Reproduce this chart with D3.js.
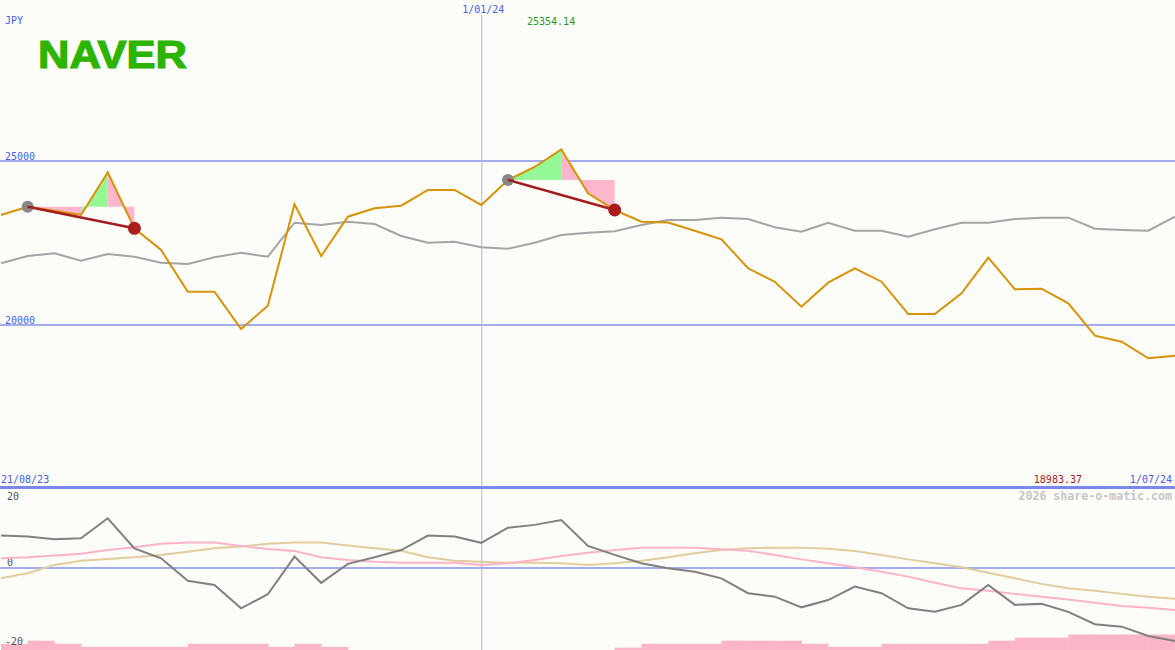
<!DOCTYPE html>
<html><head><meta charset="utf-8">
<script src="https://cdn.jsdelivr.net/npm/d3@7/dist/d3.min.js"></script>
<style>body{margin:0;background:#fcfdf9;}svg{display:block;}</style>
</head><body>
<svg id="c" width="1175" height="650"></svg>
<script>
// ---- data ----
const dates = ["2023-08-25","2023-09-01","2023-09-08","2023-09-15","2023-09-22","2023-09-29","2023-10-06","2023-10-13","2023-10-20","2023-10-27","2023-11-03","2023-11-10","2023-11-17","2023-11-24","2023-12-01","2023-12-08","2023-12-15","2023-12-22","2023-12-29","2024-01-05","2024-01-12","2024-01-19","2024-01-26","2024-02-02","2024-02-09","2024-02-16","2024-02-23","2024-03-01","2024-03-08","2024-03-15","2024-03-22","2024-03-29","2024-04-05","2024-04-12","2024-04-19","2024-04-26","2024-05-03","2024-05-10","2024-05-17","2024-05-24","2024-05-31","2024-06-07","2024-06-14","2024-06-21","2024-06-28"];
const price = [23354,23607,23485,23354,24656,22948,22287,21015,21015,19878,20588,23680,22104,23302,23558,23637,24116,24116,23659,24421,24817,25354.14,24016,23506,23150,23125,22875,22613,21729,21320,20558,21290,21729,21320,20335,20335,20967,22052,21088,21107,20662,19674,19491,18983.37,19064];
const avgLine = [21881,22104,22186,21960,22165,22082,21900,21860,22064,22204,22082,23119,23049,23150,23079,22714,22509,22540,22369,22326,22509,22744,22814,22857,23049,23201,23201,23272,23232,22979,22845,23119,22875,22875,22692,22918,23119,23119,23232,23272,23272,22936,22897,22875,23302];
const momentum = [9.4,9.1,8.3,8.6,14.4,5.7,2.8,-3.7,-4.9,-11.7,-7.6,3.3,-4.3,1.2,3.1,5.2,9.4,9.1,7.3,11.7,12.5,13.9,6.4,3.8,1.4,-0.1,-1.1,-3.0,-7.3,-8.3,-11.4,-9.3,-5.4,-7.3,-11.7,-12.7,-10.7,-4.9,-10.7,-10.4,-12.7,-16.3,-17.0,-19.7,-21.2];
const pinkSmooth = [2.8,3.1,3.6,4.1,5.2,6.0,7.0,7.4,7.4,6.4,5.5,4.9,3.1,2.3,1.8,1.5,1.5,1.5,0.9,1.4,2.3,3.5,4.4,5.2,5.9,5.9,5.9,5.4,5.0,3.8,2.5,1.4,0.2,-1.1,-2.5,-4.3,-5.9,-6.6,-7.5,-8.3,-9.1,-10.1,-11.0,-11.5,-12.2];
const tanSmooth = [-3.0,-1.5,0.9,2.1,2.6,3.1,3.8,4.7,5.7,6.2,7.0,7.4,7.4,6.5,5.7,5.0,3.1,2.1,1.8,1.5,1.5,1.4,0.9,1.4,2.1,3.1,4.3,5.2,5.7,5.9,5.9,5.6,4.9,3.8,2.5,1.4,0.2,-1.4,-3.0,-4.6,-5.9,-6.6,-7.5,-8.3,-8.9];
const bars = [2,3,2,1,1,1,1,2,2,2,1,2,1,0,0,0,0,0,0,0,0,0,0,0.75,2,2,2,3,3,3,2,1,1,2,2,2,2,3,4,4,5,5,5,5,5];
const patternStart = [1,19];
const patternEnd = [5,23];
const priceTicks = [25000,20000];
const lowerTicks = [20,0,-20];
const yearMarkDate = "2023-12-29";
const yearMarkLabel = "1/01/24";
const startLabel = "21/08/23", endLabel = "1/07/24";
const currency = "JPY", title = "NAVER";
const maxLabel = "25354.14", minLabel = "18983.37";
const watermark = "2026 share-o-matic.com";

// ---- drawing ----
const svg = d3.select("#c");
const W = 1175, H = 650;
svg.append("rect").attr("width",W).attr("height",H).attr("fill","#fcfdf9");
const n = dates.length;
const x = d3.scaleLinear().domain([0,n-1]).range([1,1175]);
const y = d3.scaleLinear().domain([20000,25000]).range([325,161]);
const yl = d3.scaleLinear().domain([-20,20]).range([637,499]);
const mono = "'DejaVu Sans Mono', monospace";

// grid
svg.selectAll(".pg").data(priceTicks).enter().append("line")
  .attr("x1",0).attr("x2",W).attr("y1",d=>y(d)).attr("y2",d=>y(d))
  .attr("stroke","#a3adee").attr("stroke-width",2);
svg.selectAll(".pt").data(priceTicks).enter().append("text")
  .attr("x",5).attr("y",d=>y(d)-1.5).text(d=>d)
  .attr("font-family",mono).attr("font-size",10).attr("fill","#4a5af0");

// year marker
const mi = dates.indexOf(yearMarkDate);
svg.append("line").attr("x1",x(mi)+0.5).attr("x2",x(mi)+0.5).attr("y1",15).attr("y2",H)
  .attr("stroke","#a8b2ec").attr("stroke-width",1);
svg.append("text").attr("x",x(mi)+2).attr("y",13).attr("text-anchor","middle").text(yearMarkLabel)
  .attr("font-family",mono).attr("font-size",10).attr("fill","#4a5af0");

// pattern fills
patternStart.forEach((s,k)=>{
  const e = patternEnd[k], L = y(price[s]);
  for(let i=s;i<e;i++){
    const pts=[[x(i),L],[x(i),y(price[i])],[x(i+1),y(price[i+1])],[x(i+1),L]];
    svg.append("path").attr("d","M"+pts.join("L")+"Z")
      .attr("fill", price[i+1]>=price[i] ? "#94f894" : "#fdb6cb").attr("stroke","none");
  }
});

const line = (arr,ys)=>d3.line().x((d,i)=>x(i)).y(d=>ys(d))(arr);
svg.append("path").attr("d",line(avgLine,y)).attr("fill","none").attr("stroke","#a4a4a4").attr("stroke-width",2);
svg.append("path").attr("d",line(price,y)).attr("fill","none").attr("stroke","#d99205").attr("stroke-width",2);

// pattern markers
patternStart.forEach((s,k)=>{
  const e = patternEnd[k];
  svg.append("line").attr("x1",x(s)).attr("y1",y(price[s])).attr("x2",x(e)).attr("y2",y(price[e]))
    .attr("stroke","#a51c1c").attr("stroke-width",2.5);
  svg.append("circle").attr("cx",x(s)).attr("cy",y(price[s])).attr("r",6).attr("fill","#878787");
  svg.append("line").attr("x1",x(s)).attr("y1",y(price[s])).attr("x2",x(s)+6).attr("y2",y(price[s])+1)
    .attr("stroke","#a51c1c").attr("stroke-width",2.5);
  svg.append("circle").attr("cx",x(e)).attr("cy",y(price[e])).attr("r",6.5).attr("fill","#ab1c1c");
});

// title and labels
svg.append("text").attr("x",5).attr("y",24).text(currency)
  .attr("font-family",mono).attr("font-size",10).attr("fill","#4a5af0");
svg.append("text").attr("x",38).attr("y",68).text(title)
  .attr("font-family","'Liberation Sans', Arial, sans-serif").attr("font-weight","bold")
  .attr("font-size",38).attr("textLength",149).attr("lengthAdjust","spacingAndGlyphs")
  .attr("fill","#2db400").attr("stroke","#2db400").attr("stroke-width",1.2);
svg.append("text").attr("x",527).attr("y",25).text(maxLabel)
  .attr("font-family",mono).attr("font-size",10).attr("fill","#1f9a1f");

// separator
svg.append("line").attr("x1",0).attr("x2",W).attr("y1",487.5).attr("y2",487.5)
  .attr("stroke","#7a88ee").attr("stroke-width",3);
svg.append("text").attr("x",1).attr("y",483).text(startLabel)
  .attr("font-family",mono).attr("font-size",10).attr("fill","#4a5af0");
svg.append("text").attr("x",1172).attr("y",483).attr("text-anchor","end").text(endLabel)
  .attr("font-family",mono).attr("font-size",10).attr("fill","#4a5af0");
svg.append("text").attr("x",1082).attr("y",483).attr("text-anchor","end").text(minLabel)
  .attr("font-family",mono).attr("font-size",10).attr("fill","#a51c1c");
svg.append("text").attr("x",1172).attr("y",500).attr("text-anchor","end").text(watermark)
  .attr("font-family",mono).attr("font-size",11.6).attr("font-weight","bold").attr("fill","#c6c6c6");

// lower panel
svg.append("line").attr("x1",0).attr("x2",W).attr("y1",yl(0)).attr("y2",yl(0))
  .attr("stroke","#a3adee").attr("stroke-width",2);
const step = x(1)-x(0);
svg.selectAll(".bar").data(bars).enter().append("rect")
  .attr("x",(d,i)=>x(i)).attr("width",step+0.5)
  .attr("y",d=>H-d*3.1).attr("height",d=>d*3.1).attr("fill","#fcb4c8");
svg.selectAll(".lt").data(lowerTicks).enter().append("text")
  .attr("x",d=>d<0?5:7).attr("y",d=>d<0?yl(d)+8:(d>0?yl(d)+1:yl(d)-2)).text(d=>d)
  .attr("font-family",mono).attr("font-size",10).attr("fill","#555");
svg.append("path").attr("d",line(tanSmooth,yl)).attr("fill","none").attr("stroke","#e2cc9c").attr("stroke-width",2);
svg.append("path").attr("d",line(pinkSmooth,yl)).attr("fill","none").attr("stroke","#fdb2c8").attr("stroke-width",2);
svg.append("path").attr("d",line(momentum,yl)).attr("fill","none").attr("stroke","#808080").attr("stroke-width",2);
</script>
</body></html>
